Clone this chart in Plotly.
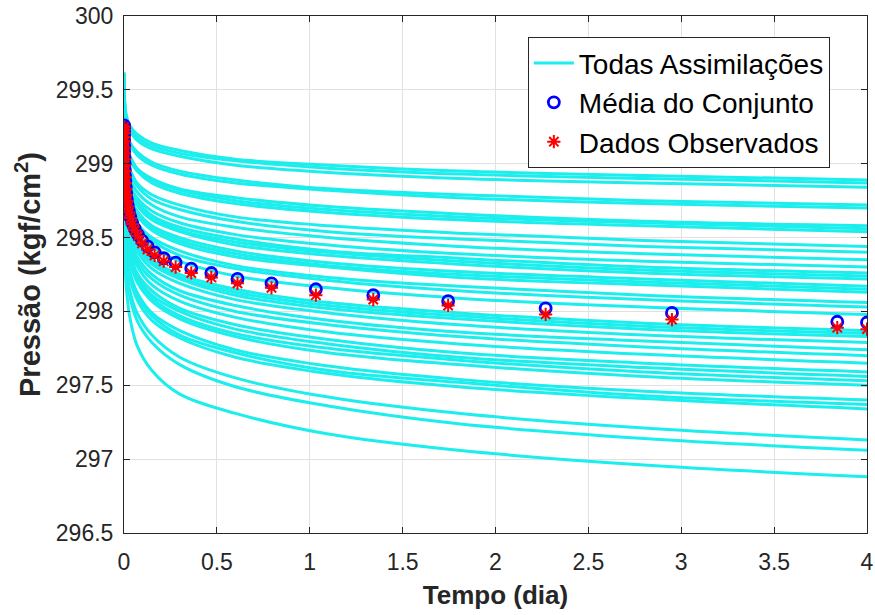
import plotly.graph_objects as go

# ---- Ensemble ("Todas Assimilações"): pressure of each of 38 curves at knot times ----
ens_t = [0.0, 0.004, 0.012, 0.03, 0.07, 0.15, 0.3, 0.6, 1.1, 1.8, 2.8, 4.0]

p_t0000 = [299.62, 299.61, 299.60, 299.60, 299.59, 299.60, 299.61, 299.58, 299.60, 299.59,
           299.60, 299.57, 299.60, 299.61, 299.58, 299.60, 299.59, 299.60, 299.58, 299.60,
           299.57, 299.59, 299.60, 299.58, 299.60, 299.57, 299.59, 299.60, 299.56, 299.58,
           299.60, 299.57, 299.58, 299.55, 299.57, 299.56, 299.55, 299.56]
p_t0004 = [299.42, 299.40, 299.39, 299.33, 299.32, 299.25, 299.24, 299.23, 299.18, 299.16,
           299.13, 299.11, 299.09, 299.08, 299.07, 299.04, 299.03, 299.02, 298.99, 298.97,
           298.94, 298.89, 298.88, 298.87, 298.84, 298.82, 298.80, 298.77, 298.74, 298.73,
           298.71, 298.69, 298.64, 298.63, 298.61, 298.52, 298.49, 298.40]
p_t0012 = [299.33, 299.32, 299.30, 299.23, 299.22, 299.15, 299.14, 299.12, 299.06, 299.04,
           299.01, 298.98, 298.96, 298.94, 298.93, 298.90, 298.89, 298.88, 298.84, 298.82,
           298.79, 298.72, 298.71, 298.70, 298.68, 298.65, 298.62, 298.59, 298.56, 298.54,
           298.52, 298.50, 298.45, 298.43, 298.41, 298.32, 298.28, 298.17]
p_t0030 = [299.26, 299.25, 299.23, 299.15, 299.14, 299.06, 299.04, 299.03, 298.97, 298.94,
           298.91, 298.87, 298.85, 298.83, 298.82, 298.79, 298.77, 298.76, 298.72, 298.70,
           298.66, 298.59, 298.58, 298.56, 298.54, 298.50, 298.48, 298.44, 298.41, 298.39,
           298.37, 298.35, 298.28, 298.26, 298.24, 298.15, 298.11, 297.97]
p_t0070 = [299.20, 299.18, 299.16, 299.08, 299.06, 298.97, 298.96, 298.95, 298.87, 298.85,
           298.81, 298.77, 298.75, 298.73, 298.72, 298.68, 298.67, 298.65, 298.60, 298.58,
           298.54, 298.47, 298.45, 298.44, 298.41, 298.37, 298.34, 298.31, 298.26, 298.24,
           298.22, 298.20, 298.13, 298.11, 298.08, 297.99, 297.94, 297.77]
p_t0150 = [299.14, 299.12, 299.10, 299.01, 298.99, 298.90, 298.89, 298.87, 298.79, 298.76,
           298.72, 298.68, 298.65, 298.64, 298.62, 298.58, 298.57, 298.55, 298.50, 298.48,
           298.44, 298.35, 298.34, 298.32, 298.29, 298.25, 298.22, 298.18, 298.14, 298.11,
           298.09, 298.07, 297.99, 297.97, 297.94, 297.84, 297.79, 297.60]
p_t0300 = [299.09, 299.07, 299.05, 298.95, 298.93, 298.83, 298.82, 298.80, 298.72, 298.69,
           298.64, 298.60, 298.57, 298.55, 298.54, 298.50, 298.48, 298.46, 298.41, 298.38,
           298.34, 298.25, 298.23, 298.22, 298.19, 298.14, 298.11, 298.07, 298.02, 298.00,
           297.97, 297.95, 297.87, 297.84, 297.82, 297.69, 297.64, 297.44]
p_t0600 = [299.03, 299.02, 298.99, 298.89, 298.87, 298.77, 298.75, 298.73, 298.64, 298.61,
           298.57, 298.52, 298.49, 298.47, 298.45, 298.41, 298.39, 298.37, 298.31, 298.29,
           298.24, 298.15, 298.13, 298.11, 298.08, 298.04, 298.00, 297.96, 297.91, 297.88,
           297.85, 297.83, 297.74, 297.72, 297.69, 297.55, 297.49, 297.31]
p_t1100 = [298.99, 298.97, 298.94, 298.83, 298.82, 298.71, 298.69, 298.67, 298.58, 298.54,
           298.50, 298.45, 298.41, 298.40, 298.38, 298.33, 298.31, 298.30, 298.23, 298.21,
           298.16, 298.06, 298.04, 298.02, 297.99, 297.94, 297.91, 297.86, 297.81, 297.78,
           297.75, 297.72, 297.63, 297.60, 297.58, 297.42, 297.36, 297.17]
p_t1800 = [298.95, 298.93, 298.90, 298.79, 298.77, 298.66, 298.64, 298.62, 298.53, 298.49,
           298.44, 298.39, 298.36, 298.34, 298.32, 298.27, 298.25, 298.23, 298.17, 298.14,
           298.09, 297.99, 297.97, 297.95, 297.91, 297.86, 297.83, 297.78, 297.72, 297.69,
           297.67, 297.64, 297.54, 297.52, 297.49, 297.31, 297.24, 297.06]
p_t2800 = [298.92, 298.90, 298.87, 298.75, 298.73, 298.61, 298.60, 298.58, 298.48, 298.44,
           298.39, 298.34, 298.30, 298.28, 298.26, 298.22, 298.20, 298.18, 298.11, 298.08,
           298.03, 297.92, 297.90, 297.88, 297.84, 297.80, 297.76, 297.71, 297.65, 297.62,
           297.59, 297.56, 297.46, 297.43, 297.41, 297.21, 297.14, 296.96]
p_t4000 = [298.89, 298.87, 298.84, 298.72, 298.70, 298.58, 298.56, 298.54, 298.44, 298.40,
           298.35, 298.30, 298.26, 298.24, 298.22, 298.17, 298.15, 298.13, 298.06, 298.03,
           297.98, 297.87, 297.85, 297.83, 297.79, 297.74, 297.70, 297.65, 297.59, 297.56,
           297.53, 297.50, 297.40, 297.37, 297.34, 297.13, 297.06, 296.88]

# ---- Observation times, ensemble mean and observed data ----
obs_t = [0.0004, 0.0005, 0.0007, 0.0009, 0.0011, 0.0015, 0.0019, 0.0025, 0.0032, 0.0042,
         0.0054, 0.0071, 0.0092, 0.0119, 0.0155, 0.0202, 0.0262, 0.0341, 0.0443, 0.0576,
         0.0749, 0.0974, 0.127, 0.165, 0.214, 0.278, 0.362, 0.470, 0.611, 0.794,
         1.033, 1.342, 1.745, 2.27, 2.95, 3.84, 4.0]
mean_p = [299.26, 299.24, 299.22, 299.19, 299.16, 299.12, 299.08, 299.04, 299.00, 298.96,
          298.92, 298.88, 298.84, 298.80, 298.76, 298.72, 298.68, 298.64, 298.60, 298.56,
          298.52, 298.48, 298.44, 298.40, 298.36, 298.33, 298.29, 298.26, 298.22, 298.19,
          298.15, 298.11, 298.07, 298.02, 297.99, 297.93, 297.925]
obs_p = [299.25, 299.23, 299.21, 299.18, 299.15, 299.11, 299.07, 299.03, 298.99, 298.95,
         298.91, 298.87, 298.83, 298.79, 298.75, 298.71, 298.67, 298.63, 298.59, 298.55,
         298.51, 298.46, 298.42, 298.38, 298.34, 298.30, 298.26, 298.23, 298.19, 298.16,
         298.11, 298.08, 298.04, 297.98, 297.945, 297.89, 297.88]

x_ticks = [0, 0.5, 1, 1.5, 2, 2.5, 3, 3.5, 4]
x_ticktext = ["0", "0.5", "1", "1.5", "2", "2.5", "3", "3.5", "4"]
y_ticks = [296.5, 297, 297.5, 298, 298.5, 299, 299.5, 300]
y_ticktext = ["296.5", "297", "297.5", "298", "298.5", "299", "299.5", "300"]

knot_arrays = [p_t0000, p_t0004, p_t0012, p_t0030, p_t0070, p_t0150,
               p_t0300, p_t0600, p_t1100, p_t1800, p_t2800, p_t4000]
curves = list(zip(*knot_arrays))

CYAN = "#1CEDED"
FONT = "Liberation Sans, Arial, Helvetica, sans-serif"
INK = "#262626"

fig = go.Figure()
for i, curve in enumerate(curves):
    fig.add_trace(go.Scatter(
        x=ens_t, y=list(curve), mode="lines",
        line=dict(color=CYAN, width=3, shape="spline", smoothing=1.0),
        name="Todas Assimilações", legendgroup="ens",
        showlegend=(i == 0), hoverinfo="skip"))

fig.add_trace(go.Scatter(
    x=obs_t, y=mean_p, mode="markers", name="Média do Conjunto", legendgroup="mean",
    marker=dict(symbol="circle-open", size=11, color="#0000FF", line=dict(width=2.8, color="#0000FF"))))
fig.add_trace(go.Scatter(
    x=obs_t, y=obs_p, mode="markers", name="Dados Observados", legendgroup="obs",
    marker=dict(symbol="asterisk-open", size=11, color="#FF0000", line=dict(width=2, color="#FF0000"))))

axis_common = dict(
    showline=True, linecolor=INK, linewidth=1, mirror="ticks",
    ticks="inside", ticklen=6, tickcolor=INK,
    showgrid=True, gridcolor="#E1E1E1", gridwidth=1, zeroline=False,
    tickfont=dict(family=FONT, size=23, color=INK),
    ticklabeloverflow="allow", automargin=False,
)

fig.update_layout(
    width=875, height=615,
    margin=dict(l=124, r=8, t=16, b=82),
    paper_bgcolor="white", plot_bgcolor="white",
    font=dict(family=FONT, color=INK),
    xaxis=dict(range=[0, 4], tickvals=x_ticks, ticktext=x_ticktext, ticklabelstandoff=8,
               title=dict(text="<b>Tempo (dia)</b>", font=dict(family=FONT, size=26, color=INK), standoff=12),
               **axis_common),
    yaxis=dict(range=[296.5, 300], tickvals=y_ticks, ticktext=y_ticktext, ticklabelstandoff=5,
               title=dict(text="<b>Pressão (kgf/cm<sup>2</sup>)</b>", font=dict(family=FONT, size=29, color=INK), standoff=6),
               **axis_common),
    legend=dict(x=0.95, y=0.959, xanchor="right", yanchor="top",
                bgcolor="white", bordercolor=INK, borderwidth=1,
                font=dict(family=FONT, size=28, color="#000000"),
                tracegroupgap=0, itemwidth=40),
    showlegend=True,
)

fig.write_html("out.html", config={"displayModeBar": False},
               post_script="document.body.style.margin='0';")
